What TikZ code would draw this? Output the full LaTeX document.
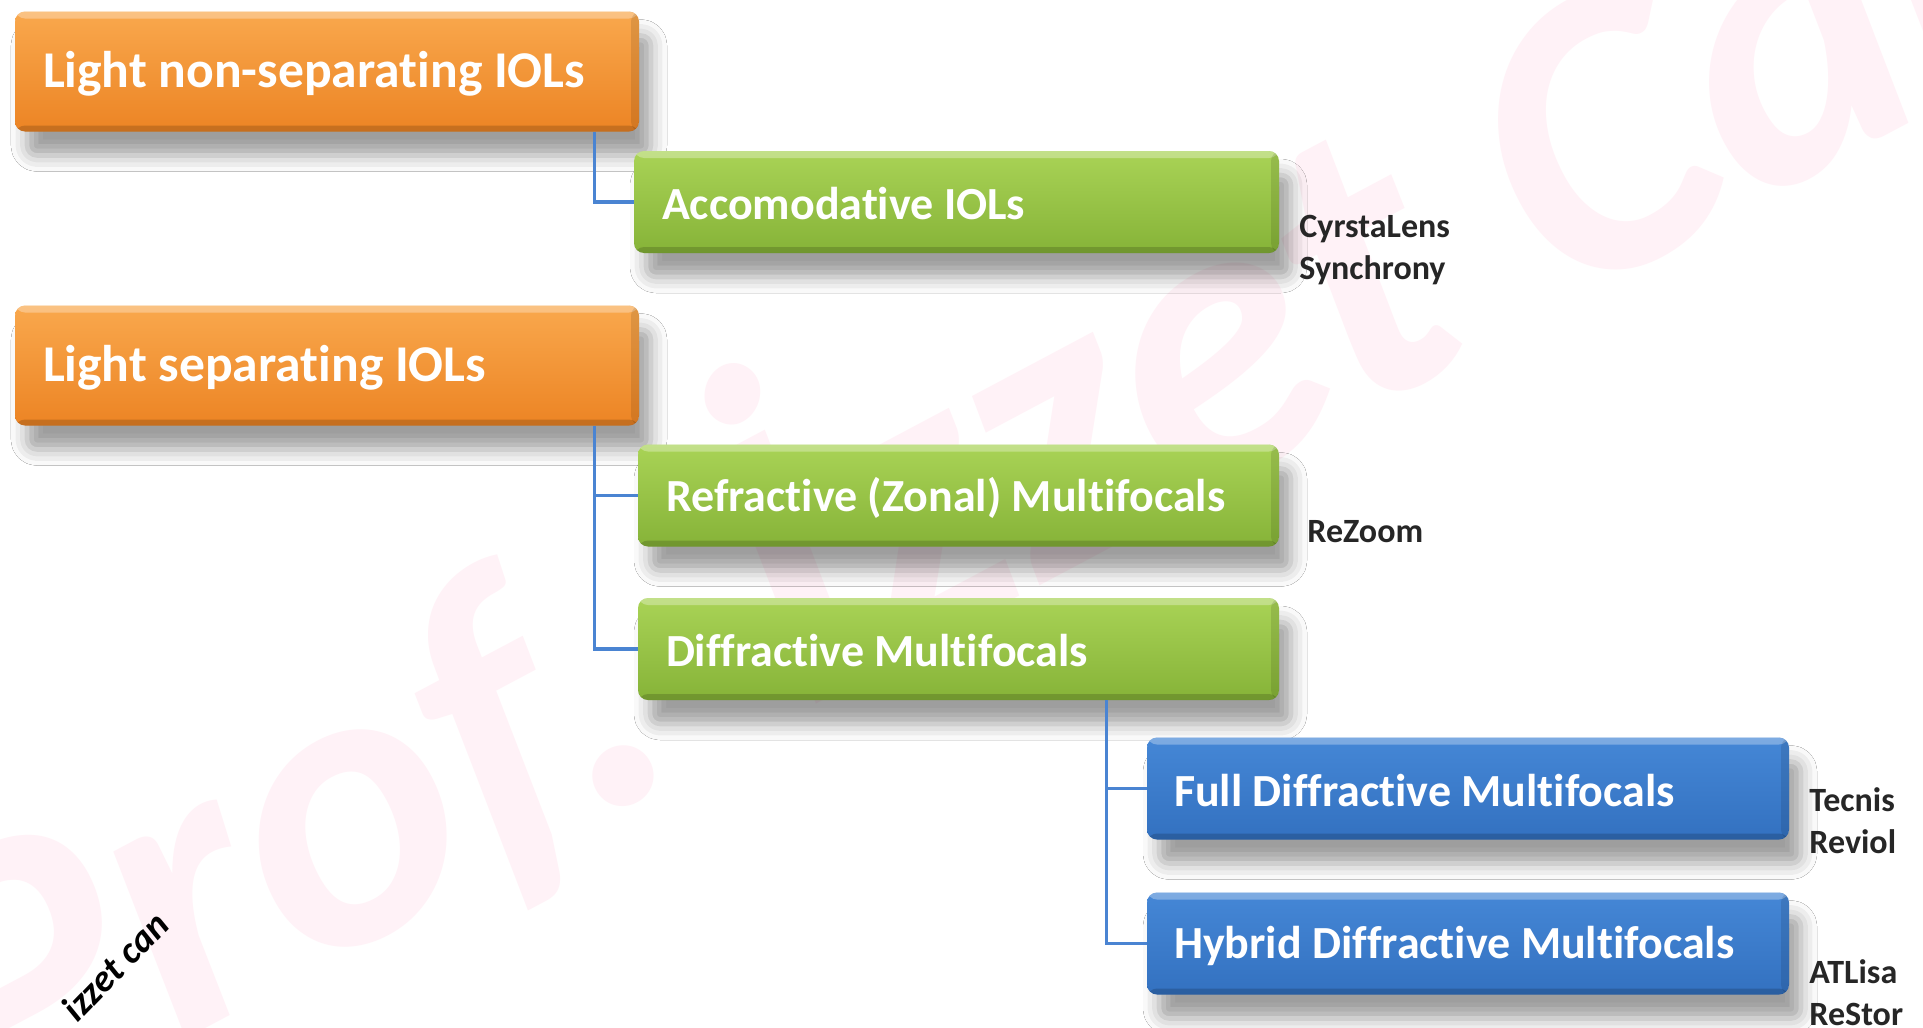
\documentclass[tikz,border=0pt]{standalone}
\usepackage{fontspec}
\setmainfont{Carlito}[Ligatures=NoCommon]
\usetikzlibrary{shadows.blur,calc}
\definecolor{orTop}{HTML}{F9A84D}
\definecolor{orBot}{HTML}{EC8424}
\definecolor{grTop}{HTML}{A9D356}
\definecolor{grBot}{HTML}{86B338}
\definecolor{blTop}{HTML}{4587D6}
\definecolor{blBot}{HTML}{3371C0}
\definecolor{connC}{HTML}{4A84D2}
\definecolor{wmark}{HTML}{FFF2F7}
\tikzset{
  plaque/.style={rectangle, rounded corners=5pt, inner sep=0pt, minimum height=51pt,
    blur shadow={shadow xshift=6pt, shadow yshift=-12pt, shadow blur radius=8pt, shadow opacity=38},
    path picture={
      \fill[white,opacity=0.30] (path picture bounding box.north west) rectangle ([yshift=-3.5pt]path picture bounding box.north east);
      \fill[black,opacity=0.16] (path picture bounding box.south west) rectangle ([yshift=3pt]path picture bounding box.south east);
      \fill[black,opacity=0.10] (path picture bounding box.north east) rectangle ([xshift=-4pt]path picture bounding box.south east);
    }},
  obox/.style={plaque, top color=orTop, bottom color=orBot, minimum width=312pt, minimum height=60pt},
  gbox/.style={plaque, top color=grTop, bottom color=grBot},
  bbox/.style={plaque, top color=blTop, bottom color=blBot, minimum width=321pt},
  otext/.style={anchor=west, inner sep=0pt, text=white, font=\bfseries\fontsize{25.8}{28}\selectfont},
  ptext/.style={anchor=west, inner sep=0pt, text=white, font=\bfseries\fontsize{23}{26}\selectfont},
  conn/.style={draw=connC, line width=1.9pt},
  side/.style={anchor=west, inner sep=0pt, align=left, text=black!85, font=\bfseries\fontsize{17}{21}\selectfont}
}
\begin{document}
\begin{tikzpicture}[x=0.5pt,y=-0.5pt]
\useasboundingbox[fill=white] (0,0) rectangle (1923,1028);
% watermark
\node[text=wmark, rotate=28, font=\bfseries\itshape\fontsize{205}{205}\selectfont, inner sep=0pt] (wm) at (990,445) {Prof. İzzet Can};
% boxes
\node[obox] (o1) at (327,71.5) {};
\node[gbox, minimum width=322.5pt] (acc) at (956.5,202) {};
\node[obox] (o2) at (327,365.5) {};
\node[gbox, minimum width=320.5pt] (ref) at (958.5,495.5) {};
\node[gbox, minimum width=320.5pt] (dif) at (958.5,649) {};
\node[bbox] (full) at (1468,788.5) {};
\node[bbox] (hyb) at (1468,943.5) {};
% box texts
\node[otext] (o1t) at ([xshift=14pt,yshift=-1pt]o1.west) {Light non-separating IOLs};
\node[ptext] (acct) at ([xshift=14pt,yshift=-1pt]acc.west) {Accomodative IOLs};
\node[otext] (o2t) at ([xshift=14pt,yshift=-1pt]o2.west) {Light separating IOLs};
\node[ptext] (reft) at ([xshift=14pt,yshift=-1pt]ref.west) {Refractive (Zonal) Multifocals};
\node[ptext] (dift) at ([xshift=14pt,yshift=-1pt]dif.west) {Diffractive Multifocals};
\node[ptext] (fullt) at ([xshift=13.5pt,yshift=-1pt]full.west) {Full Diffractive Multifocals};
\node[ptext] (hybt) at ([xshift=13.5pt,yshift=-1pt]hyb.west) {Hybrid Diffractive Multifocals};
% connectors
\coordinate (c1) at ([xshift=-22.5pt]o1.south east);
\coordinate (c2) at ([xshift=-22.5pt]o2.south east);
\coordinate (c3) at ([xshift=-86.5pt]dif.south east);
\draw[conn] (c1) |- (acc.west);
\draw[conn] (c2) |- (ref.west);
\draw[conn] (c2) |- (dif.west);
\draw[conn] (c3) |- (full.west);
\draw[conn] (c3) |- (hyb.west);
% side labels
\node[side] (l1) at (1299,250) {CyrstaLens\\Synchrony};
\node[side] (l2) at (1307,532) {ReZoom};
\node[side] (l3) at (1809,820.5) {Tecnis\\Reviol};
\node[side] (l4) at (1809,993) {ATLisa\\ReStor};
% signature
\node[rotate=46, font=\bfseries\itshape\fontsize{19}{19}\selectfont, inner sep=0pt] (sig) at (115,966) {izzet can};
\end{tikzpicture}
\end{document}
